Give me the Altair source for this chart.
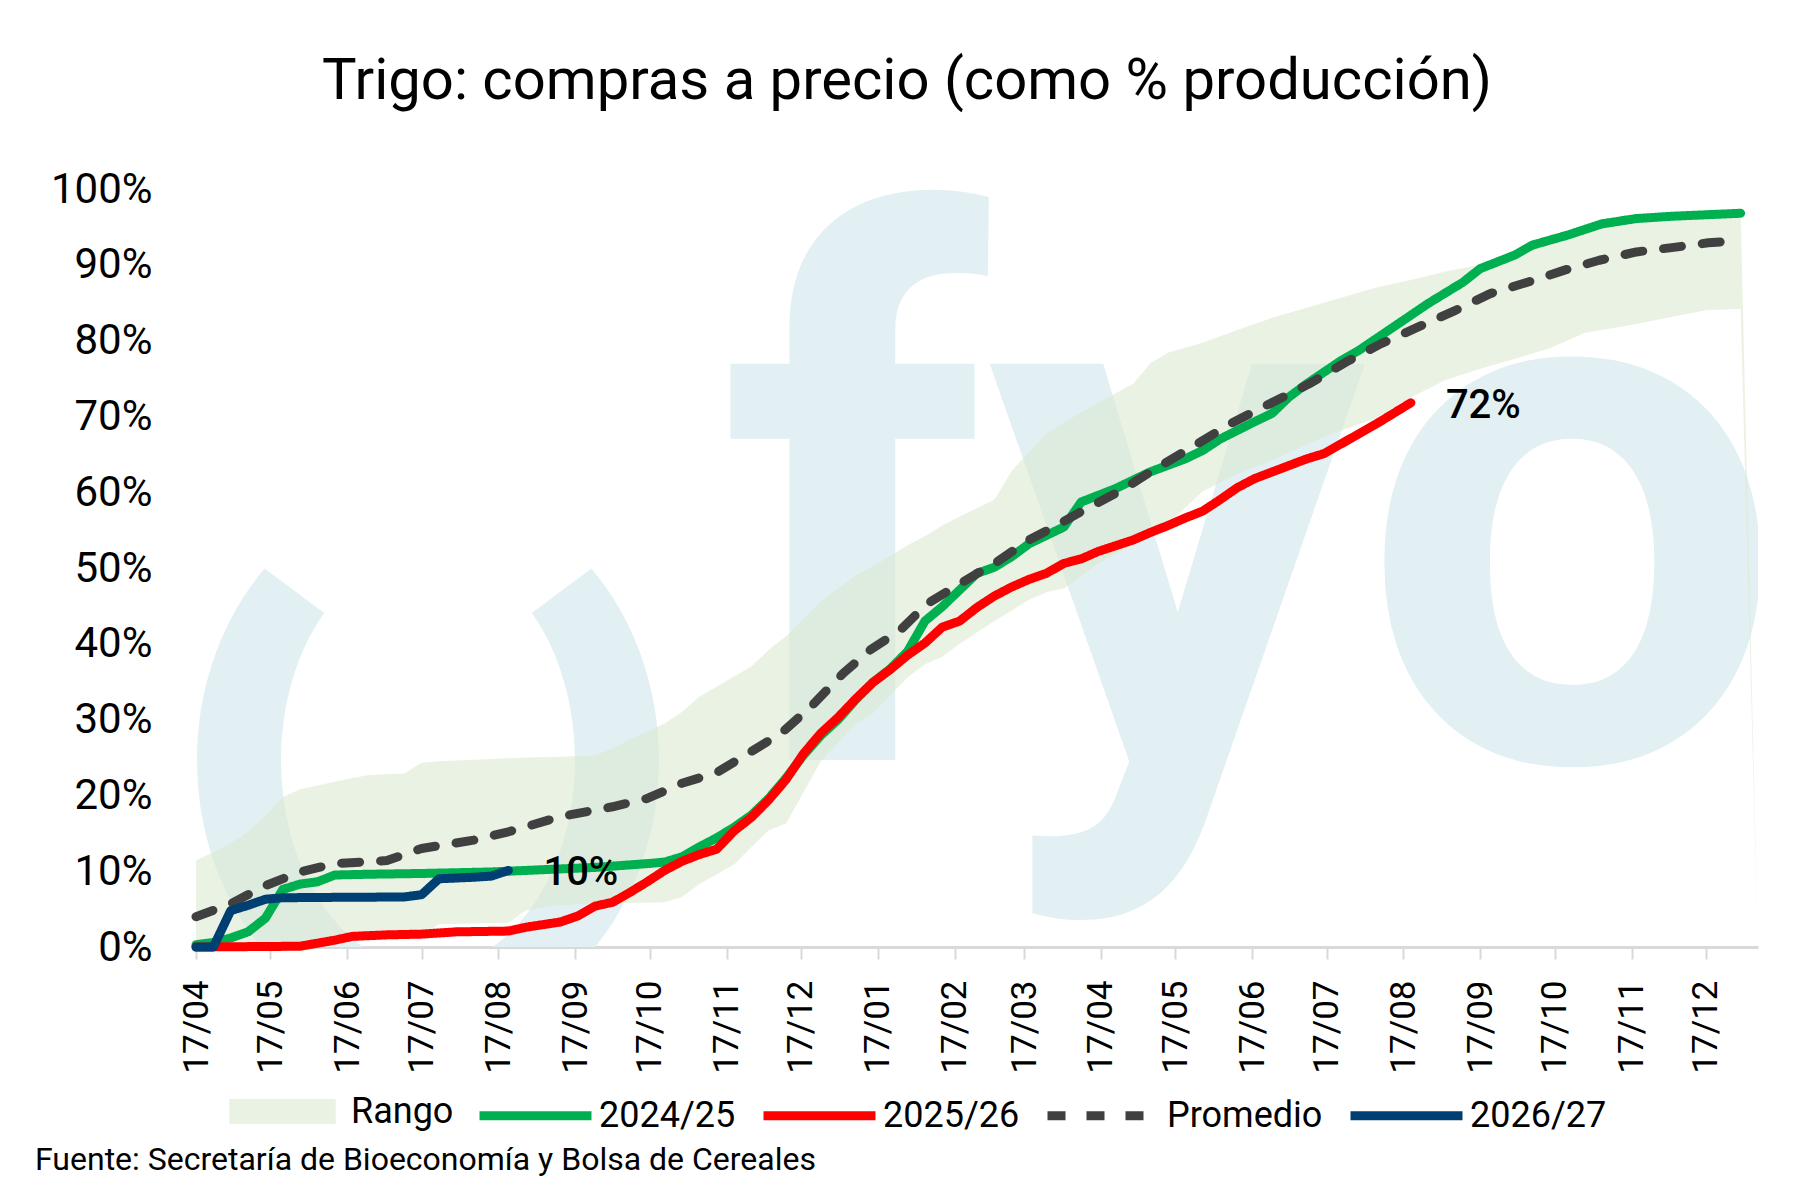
import altair as alt
import pandas as pd

titulo = "Trigo: compras a precio (como % producción)"
fuente = "Fuente: Secretaría de Bioeconomía y Bolsa de Cereales"
inicio = pd.Timestamp("2025-04-17")

# ticks of the x axis (17th of each month)
meses_eje = [(2025, 4), (2025, 5), (2025, 6), (2025, 7), (2025, 8), (2025, 9), (2025, 10),
             (2025, 11), (2025, 12), (2026, 1), (2026, 2), (2026, 3), (2026, 4), (2026, 5),
             (2026, 6), (2026, 7), (2026, 8), (2026, 9), (2026, 10), (2026, 11), (2026, 12)]

series = ["2024/25", "2025/26", "Promedio", "2026/27"]
colores = ["#00B050", "#FF0000", "#404040", "#003F72"]
trazos = [[1, 0], [1, 0], [18, 21], [1, 0]]

# days since 17/04
rango_dias = [0, 7, 14, 21, 28, 35, 42, 56, 63, 70, 84, 91, 98, 112, 126, 133, 147, 161, 168, 175,
              189, 196, 203, 217, 224, 231, 238, 252, 266, 273, 287, 294, 301, 308, 322, 329, 336, 343, 350, 364,
              378, 385, 392, 406, 420, 434, 455, 476, 490, 504, 518, 532, 546, 560, 581, 595, 609, 623, 630]
rango_sup = [11.4, 12.5, 13.7, 15.2, 17.3, 19.8, 20.8, 21.8, 22.3, 22.7, 22.9, 24.3, 24.5, 24.7, 24.9, 25.0, 25.1, 25.3, 26.2, 27.4,
             29.5, 31.0, 33.0, 35.7, 37.0, 39.2, 41.0, 45.6, 49.0, 50.2, 53.0, 54.2, 55.6, 56.8, 59.0, 62.8, 65.3, 67.7, 69.2, 71.8,
             74.3, 77.0, 78.4, 79.7, 81.4, 83.0, 85.0, 87.0, 88.0, 89.1, 90.0, 91.3, 93.4, 94.8, 96.1, 96.4, 96.6, 96.8, 0.0]
rango_inf = [0.0, 0.0, 0.0, 0.0, 0.0, 0.0, 0.3, 0.8, 1.0, 1.2, 1.5, 1.6, 3.0, 3.1, 3.2, 4.8, 5.5, 5.7, 5.7, 5.8,
             5.9, 6.6, 8.3, 10.9, 13.2, 15.4, 16.3, 24.5, 29.4, 30.8, 35.6, 37.3, 38.3, 40.0, 43.0, 44.4, 45.8, 46.8, 47.3, 50.6,
             53.2, 54.4, 55.8, 60.1, 62.4, 64.2, 67.3, 69.8, 72.5, 74.8, 76.3, 77.6, 79.0, 81.0, 82.2, 83.1, 84.0, 84.2, 0.0]

dias_2425 = [0, 7, 14, 21, 28, 35, 42, 49, 56, 70, 91, 119, 140, 161, 182, 189, 196, 203, 210, 217,
             224, 231, 238, 245, 252, 259, 266, 273, 280, 287, 294, 301, 308, 315, 322, 329, 336, 350, 357, 371,
             385, 399, 406, 413, 427, 434, 441, 448, 462, 469, 483, 497, 511, 518, 532, 539, 553, 567, 581, 595,
             609, 623]
val_2425 = [0.3, 0.6, 1.2, 2.0, 3.8, 7.6, 8.3, 8.6, 9.5, 9.6, 9.7, 9.9, 10.2, 10.5, 11.0, 11.2, 11.9, 13.2, 14.4, 15.8,
            17.4, 19.6, 22.3, 25.3, 27.9, 30.0, 32.6, 34.9, 36.7, 39.0, 43.0, 44.9, 47.1, 49.3, 50.1, 51.5, 53.2, 55.4, 58.7, 60.5,
            62.7, 64.4, 65.5, 67.0, 69.3, 70.4, 72.6, 74.3, 77.4, 78.7, 81.8, 84.9, 87.7, 89.5, 91.3, 92.6, 93.9, 95.4, 96.1, 96.4,
            96.6, 96.8]

dias_2526 = [0, 42, 49, 56, 63, 77, 91, 105, 126, 133, 147, 154, 161, 168, 175, 182, 189, 196, 203, 210,
             217, 224, 231, 238, 245, 252, 259, 266, 273, 280, 287, 294, 301, 308, 315, 322, 329, 336, 343, 350,
             357, 364, 378, 385, 392, 399, 406, 413, 420, 427, 448, 455, 469, 476, 483, 490]
val_2526 = [0.0, 0.1, 0.5, 0.9, 1.4, 1.6, 1.7, 2.0, 2.1, 2.6, 3.3, 4.1, 5.4, 5.9, 7.2, 8.6, 10.1, 11.3, 12.2, 12.9,
            15.3, 17.1, 19.4, 22.1, 25.5, 28.2, 30.3, 32.7, 34.9, 36.6, 38.5, 40.1, 42.2, 43.0, 44.8, 46.3, 47.5, 48.5, 49.3, 50.6,
            51.2, 52.2, 53.7, 54.7, 55.6, 56.6, 57.5, 59.0, 60.6, 61.8, 64.4, 65.1, 67.7, 69.0, 70.4, 71.8]

dias_prom = [0, 14, 28, 42, 56, 77, 91, 112, 126, 147, 168, 182, 196, 210, 224, 236, 248, 261, 272, 284,
             295, 308, 323, 336, 347, 359, 373, 388, 402, 417, 429, 449, 464, 478, 493, 508, 522, 537, 552, 566,
             581, 596, 610, 623]
val_prom = [4.0, 5.7, 8.1, 9.9, 11.0, 11.4, 13.0, 14.1, 15.2, 17.2, 18.5, 19.6, 21.6, 23.0, 25.8, 28.2, 31.7, 36.1, 39.2, 41.8,
            45.3, 47.9, 50.8, 53.7, 55.6, 57.8, 60.2, 63.3, 66.0, 69.0, 71.0, 74.3, 77.2, 79.6, 81.8, 84.0, 86.2, 87.7, 89.3, 90.6,
            91.7, 92.3, 92.9, 93.2]

dias_2627 = [0, 7, 14, 21, 28, 35, 56, 84, 91, 98, 105, 112, 119, 126]
val_2627 = [0.0, 0.0, 4.8, 5.5, 6.3, 6.5, 6.55, 6.6, 6.9, 9.0, 9.1, 9.2, 9.35, 10.1]


def fechas(dias):
    return inicio + pd.to_timedelta(dias, unit="D")


df_rango = pd.DataFrame({"fecha": fechas(rango_dias), "sup": rango_sup, "inf": rango_inf, "banda": "Rango"})

partes = []
for nombre, d, v in [("2024/25", dias_2425, val_2425), ("2025/26", dias_2526, val_2526),
                     ("Promedio", dias_prom, val_prom), ("2026/27", dias_2627, val_2627)]:
    partes.append(pd.DataFrame({"fecha": fechas(d), "valor": v, "serie": nombre}))
df_lineas = pd.concat(partes, ignore_index=True)

ult = []
for nombre, d, v in [("2026/27", dias_2627, val_2627), ("2025/26", dias_2526, val_2526)]:
    ult.append({"fecha": fechas([d[-1]])[0], "valor": v[-1], "etiqueta": f"{round(v[-1])}%"})
df_etq = pd.DataFrame(ult)

df_logo = pd.DataFrame({"logo": ["fyo"]})
df_fuente = pd.DataFrame({"texto": [fuente]})

FONT = "Roboto"

x_scale = alt.Scale(domain=[alt.DateTime(year=2025, month=4, date=17),
                            alt.DateTime(year=2027, month=1, date=7)], nice=False)
x_axis = alt.Axis(values=[alt.DateTime(year=y, month=m, date=17) for y, m in meses_eje],
                  format="%d/%m", labelAngle=270, labelAlign="right", labelBaseline="middle",
                  labelFontSize=35, labelFont=FONT, labelColor="#000000", labelPadding=21,
                  labelOverlap=False, labelFlush=False, tickColor="#D9D9D9", tickWidth=2,
                  tickSize=12, domainColor="#D9D9D9", domainWidth=3, grid=False, title=None)
y_scale = alt.Scale(domain=[0, 100], nice=False)
y_axis = alt.Axis(values=list(range(0, 101, 10)), labelExpr="datum.value + '%'",
                  labelFontSize=42, labelFont=FONT, labelColor="#000000", labelPadding=44,
                  domain=False, ticks=False, tickSize=0, grid=False, title=None,
                  labelOverlap=False, labelFlush=False)

X = alt.X("fecha:T", scale=x_scale, axis=x_axis, title=None)

# watermark logo
anillo = alt.Chart(df_logo).mark_point(
    shape=("M-0.7071,-0.8294 C-0.8946,-0.6095 -1,-0.3111 -1,0 C-1,0.6478 -0.5523,1.173 0,1.173 "
           "C0.5523,1.173 1,0.6478 1,0 C1,-0.3111 0.8946,-0.6095 0.7071,-0.8294 "
           "L0.4497,-0.6364 C0.569,-0.4676 0.636,-0.2387 0.636,0 C0.636,0.4971 0.3513,0.9 0,0.9 "
           "C-0.3513,0.9 -0.636,0.4971 -0.636,0 C-0.636,-0.2387 -0.569,-0.4676 -0.4497,-0.6364 Z"),
    filled=True, color="#E2F0F4", opacity=1, strokeWidth=0, size=213444, clip=True
).encode(x=alt.value(232), y=alt.value(571))

logo = alt.Chart(df_logo).mark_text(
    font=FONT, fontSize=750, fontWeight="bold", color="#E2F0F4", align="left",
    baseline="alphabetic", clip=True
).encode(x=alt.value(524), y=alt.value(571), text="logo:N")

banda = alt.Chart(df_rango).mark_area(opacity=0.6).encode(
    x=X,
    y=alt.Y("sup:Q", scale=y_scale, axis=y_axis, title=None),
    y2="inf:Q",
    fill=alt.Fill("banda:N", scale=alt.Scale(domain=["Rango"], range=["#DCE9D0"]),
                  legend=alt.Legend(title=None, orient="none", legendX=33, legendY=869,
                                    direction="horizontal", symbolType="M-1,-0.235H1V0.235H-1Z",
                                    symbolSize=11342, symbolOpacity=0.6, symbolStrokeWidth=0,
                                    labelOffset=15, labelFont=FONT, labelFontSize=36,
                                    labelColor="#000000", padding=0)),
)

leg_lineas = alt.Legend(title=None, orient="none", legendX=279, legendY=866, direction="horizontal",
                        symbolType="stroke", symbolSize=12544, symbolStrokeWidth=9, labelOffset=3,
                        columnPadding=9, labelFont=FONT, labelFontSize=36, labelColor="#000000",
                        padding=0)

lineas = alt.Chart(df_lineas).mark_line(strokeWidth=9, strokeCap="round", strokeJoin="round").encode(
    x=X,
    y=alt.Y("valor:Q", scale=y_scale, axis=y_axis, title=None),
    color=alt.Color("serie:N", scale=alt.Scale(domain=series, range=colores), legend=leg_lineas, title=None),
    strokeDash=alt.StrokeDash("serie:N", scale=alt.Scale(domain=series, range=trazos), legend=leg_lineas, title=None),
    order=alt.Order("fecha:T"),
)

etiquetas = alt.Chart(df_etq).mark_text(
    align="left", baseline="middle", dx=35, dy=3, font=FONT, fontSize=40, fontWeight=500, color="#000000"
).encode(
    x=X,
    y=alt.Y("valor:Q", scale=y_scale, axis=y_axis, title=None),
    text="etiqueta:N",
)

nota = alt.Chart(df_fuente).mark_text(
    align="left", baseline="alphabetic", font=FONT, fontSize=32, color="#000000"
).encode(x=alt.value(-161), y=alt.value(981), text="texto:N")

chart = alt.layer(anillo, logo, banda, lineas, etiquetas, nota).properties(
    width=1562,
    height=758,
    padding={"left": 188, "top": 181, "right": 48, "bottom": 233},
    autosize=alt.AutoSizeParams(type="none"),
    background="white",
    title=alt.TitleParams(text=titulo, font=FONT, fontSize=58, fontWeight="normal", color="#000000",
                          anchor="middle", frame="group", dx=-70, offset=11, baseline="alphabetic"),
).configure_view(strokeWidth=0)

chart.save("out.html", embed_options={"renderer": "svg", "actions": False})
